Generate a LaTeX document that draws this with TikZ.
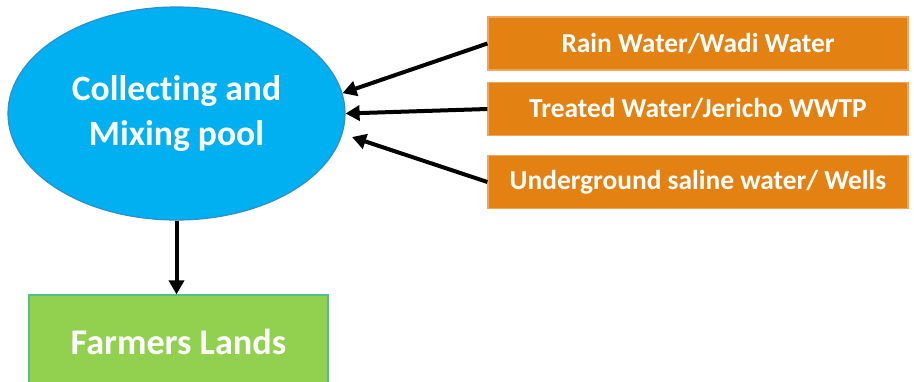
\documentclass[tikz,border=0pt]{standalone}
\usepackage{fontspec}
\setsansfont{Carlito}[Ligatures=NoCommon]
\usetikzlibrary{arrows.meta,shapes.geometric}
\definecolor{PoolBlue}{HTML}{00B0F0}
\definecolor{PoolEdge}{HTML}{2E8FC9}
\definecolor{SourceOrange}{HTML}{E38112}
\definecolor{SourceEdge}{HTML}{F2A65A}
\definecolor{LandGreen}{HTML}{92D050}
\definecolor{LandEdge}{HTML}{4FC08D}
\tikzset{
  every node/.style={font=\sffamily\bfseries, text=white},
  pool/.style={ellipse, draw=PoolEdge, line width=0.6pt, fill=PoolBlue, inner sep=0pt,
    minimum width=168.5pt, minimum height=106.5pt, align=center,
    font=\sffamily\bfseries\fontsize{17.8}{22.5}\selectfont},
  source/.style={rectangle, draw=SourceEdge, line width=0.6pt, fill=SourceOrange,
    minimum width=210pt, minimum height=26.5pt,
    font=\sffamily\bfseries\fontsize{13.7}{16}\selectfont},
  land/.style={rectangle, draw=LandEdge, line width=0.6pt, fill=LandGreen,
    minimum width=149.5pt, minimum height=47pt,
    font=\sffamily\bfseries\fontsize{18.1}{21}\selectfont},
  flow/.style={-{Triangle[length=7pt,width=7.5pt]}, draw=black, line width=2pt},
}

\begin{document}
\begin{tikzpicture}[x=0.5pt,y=-0.5pt]
  \useasboundingbox (0,0) rectangle (914,381);
  \clip (0,0) rectangle (914,381);

  % Mixing pool
  \node[pool] (pool) at (176.5,113.5) {Collecting and\\Mixing pool};

  % Water sources
  \node[source] (rain) at (698,43.5) {Rain Water/Wadi Water};
  \node[source] (treated) at (698,109) {Treated Water/Jericho WWTP};
  \node[source] (wells) at (698,182) {Underground saline water/ Wells};

  % Farmers lands, cut by the lower edge
  \node[land] (land) at (178.5,342) {Farmers Lands};

  % Flows into and out of the pool
  \draw[flow] (rain.west) -- (pool.7);
  \draw[flow] (treated.west) -- (pool.0);
  \draw[flow, shorten >=5pt] (wells.west) -- (pool.-7);
  \draw[flow] (pool.south) -- (pool.south |- land.north);
\end{tikzpicture}
\end{document}
